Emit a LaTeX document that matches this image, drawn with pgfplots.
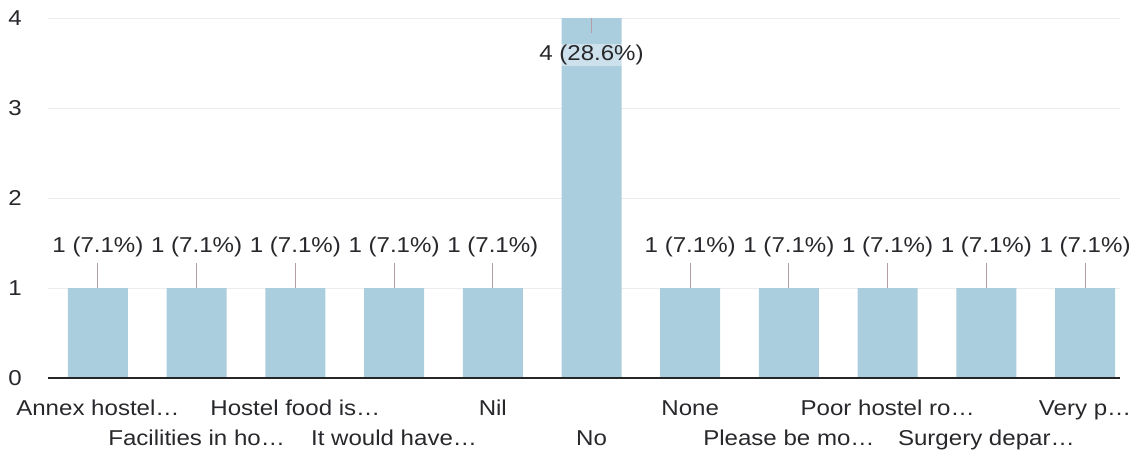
\documentclass[border=0pt]{standalone}
\usepackage{fontspec}
\setmainfont{Liberation Sans}[FakeStretch=1.12]
\usepackage{pgfplots}
\usepackage{pgfplotstable}
\pgfplotsset{compat=1.18}
\definecolor{barblue}{RGB}{171,206,223}
\definecolor{txt}{RGB}{40,40,44}
\definecolor{gridc}{RGB}{235,235,240}
\definecolor{leader}{RGB}{178,158,168}

% x, count, label height, leader up, leader down, label
\pgfplotstableread[col sep=comma]{
x,y,ly,ep,em,lab
0,1,1.455,0.28,0,1 (7.1\%)
1,1,1.455,0.28,0,1 (7.1\%)
2,1,1.455,0.28,0,1 (7.1\%)
3,1,1.455,0.28,0,1 (7.1\%)
4,1,1.455,0.28,0,1 (7.1\%)
5,4,3.59,0,0.17,4 (28.6\%)
6,1,1.455,0.28,0,1 (7.1\%)
7,1,1.455,0.28,0,1 (7.1\%)
8,1,1.455,0.28,0,1 (7.1\%)
9,1,1.455,0.28,0,1 (7.1\%)
10,1,1.455,0.28,0,1 (7.1\%)
}\answers

\begin{document}
\begin{tikzpicture}
\begin{axis}[
  scale only axis,
  width=1072bp, height=360bp,
  xmin=-0.506, xmax=10.354,
  ymin=0, ymax=4,
  ytick={0,1,2,3,4},
  xtick={0,2,4,6,8,10},
  xticklabels={Annex hostel…, Hostel food is…, Nil, None, Poor hostel ro…, Very p…},
  extra x ticks={1,3,5,7,9},
  extra x tick labels={Facilities in ho…, It would have…, No, Please be mo…, Surgery depar…},
  extra x tick style={xticklabel style={yshift=-30bp}},
  major tick length=0pt,
  axis line style={draw=none},
  ymajorgrids,
  major grid style={gridc, line width=1bp},
  /pgf/number format/assume math mode=true,
  tick label style={font=\fontsize{21.5bp}{25bp}\selectfont, text=txt},
  xticklabel style={anchor=base, yshift=-37bp, inner sep=0pt},
  yticklabel style={anchor=east, inner sep=0pt, xshift=-26bp},
  clip=false,
]
\addplot[ybar, bar width=60bp, fill=barblue, draw=none] table[x=x, y=y] {\answers};
\addplot[draw=none, mark=none, forget plot,
  error bars/.cd, y dir=both, y explicit,
  error bar style={draw=leader, line width=1bp}, error mark=none]
  table[x=x, y=y, y error plus=ep, y error minus=em] {\answers};
\addplot[draw=none, mark=none,
  point meta=explicit symbolic,
  nodes near coords,
  nodes near coords align={center},
  every node near coord/.style={font=\fontsize{21.5bp}{25bp}\selectfont, text=txt,
    fill=white, fill opacity=0.4, text opacity=1, inner sep=1bp}]
  table[x=x, y=ly, meta=lab] {\answers};
\draw[black!85, line width=1.8bp] (axis cs:-0.506,0) -- (axis cs:10.354,0);
\end{axis}
\pgfresetboundingbox
\path[use as bounding box] ([xshift=-48bp,yshift=-77bp]current axis.south west)
  rectangle ([xshift=19bp,yshift=18bp]current axis.north east);
\end{tikzpicture}
\end{document}
